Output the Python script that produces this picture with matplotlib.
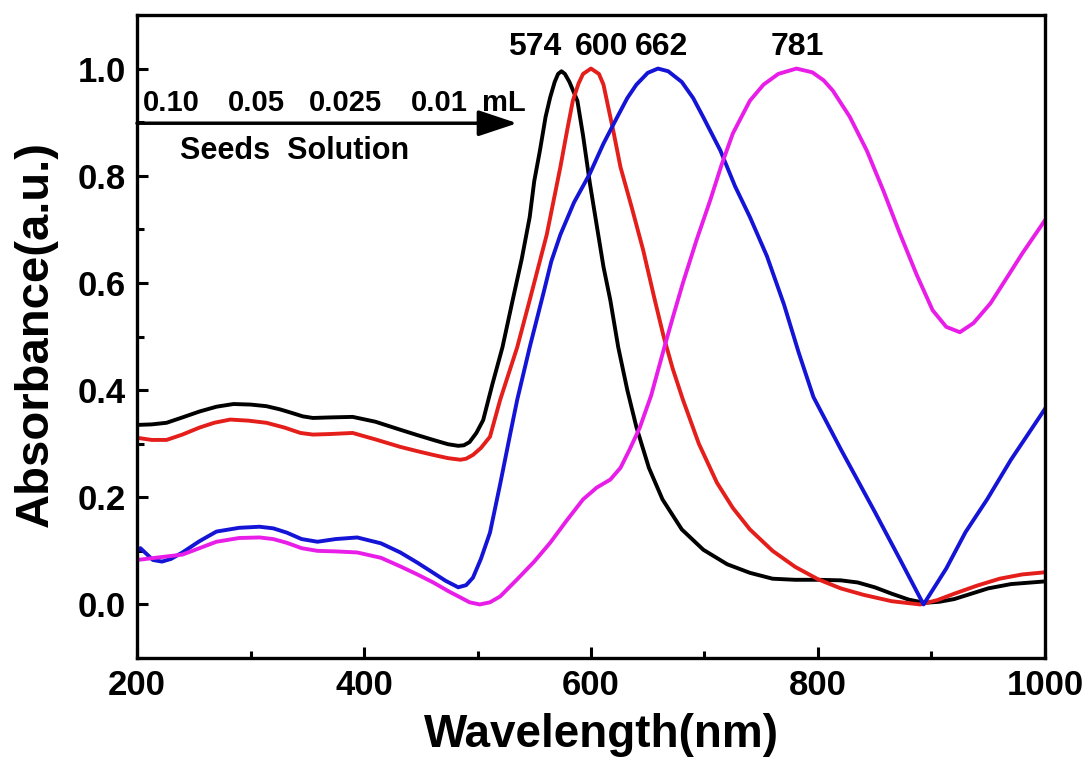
import matplotlib
matplotlib.use("Agg")
import matplotlib.pyplot as plt
from matplotlib.ticker import MultipleLocator

# values
black_x = [200, 213, 226, 240, 255, 270, 285, 300, 314, 326, 337, 346, 355, 370, 390, 410, 432, 447, 461, 474, 483,
           488, 493, 499, 505, 513, 522, 531, 539, 546, 550, 555, 560, 564, 568, 571, 574, 577, 581, 588, 593, 599,
           611, 617, 624, 632, 640, 651, 663, 680, 699, 720, 740, 760, 780, 800, 820, 835, 850, 865, 880, 894, 907,
           920, 935, 950, 970, 1000]
black_y = [0.335, 0.336, 0.339, 0.349, 0.360, 0.369, 0.374, 0.373, 0.370, 0.364, 0.357, 0.351, 0.348, 0.349, 0.350,
           0.341, 0.326, 0.316, 0.307, 0.299, 0.296, 0.297, 0.303, 0.320, 0.344, 0.41, 0.48, 0.568, 0.645, 0.723,
           0.79, 0.847, 0.91, 0.946, 0.975, 0.99, 0.995, 0.99, 0.975, 0.94, 0.875, 0.786, 0.63, 0.568, 0.48, 0.40,
           0.331, 0.255, 0.196, 0.14, 0.102, 0.075, 0.059, 0.048, 0.046, 0.046, 0.045, 0.041, 0.032, 0.02, 0.009,
           0.003, 0.005, 0.01, 0.02, 0.03, 0.038, 0.043]

red_x = [200, 213, 226, 240, 255, 268, 282, 298, 314, 330, 344, 355, 370, 390, 410, 432, 447, 461, 474, 485, 490,
         496, 503, 511, 520, 535, 546, 561, 573, 579, 584, 589, 593, 600, 607, 611, 614, 620, 626, 636, 646, 656,
         664, 672, 681, 695, 711, 725, 740, 760, 780, 800, 820, 840, 865, 890, 905, 920, 940, 960, 980, 1000]
red_y = [0.311, 0.307, 0.307, 0.317, 0.330, 0.339, 0.345, 0.343, 0.339, 0.330, 0.320, 0.317, 0.318, 0.320, 0.308,
         0.294, 0.286, 0.279, 0.273, 0.270, 0.272, 0.279, 0.292, 0.313, 0.382, 0.48, 0.568, 0.69, 0.816, 0.885,
         0.94, 0.972, 0.99, 1.0, 0.99, 0.97, 0.94, 0.88, 0.816, 0.74, 0.661, 0.57, 0.50, 0.44, 0.382, 0.30, 0.227,
         0.18, 0.14, 0.10, 0.07, 0.047, 0.03, 0.018, 0.006, 0.0, 0.008, 0.02, 0.035, 0.048, 0.056, 0.06]

blue_x = [200, 203, 208, 214, 222, 230, 240, 255, 270, 290, 308, 320, 332, 345, 359, 375, 394, 415, 432, 447, 461,
          472, 483, 490, 496, 503, 511, 520, 529, 535, 546, 552, 558, 565, 573, 585, 599, 611, 623, 632, 640, 650,
          659, 668, 680, 690, 699, 714, 727, 740, 755, 770, 783, 796, 820, 850, 872, 893, 913, 930, 949, 970, 1000]
blue_y = [0.099, 0.105, 0.095, 0.083, 0.080, 0.085, 0.097, 0.118, 0.136, 0.143, 0.145, 0.142, 0.134, 0.122, 0.117,
          0.122, 0.125, 0.114, 0.097, 0.078, 0.059, 0.044, 0.032, 0.036, 0.050, 0.085, 0.134, 0.225, 0.32, 0.382,
          0.48, 0.53, 0.58, 0.64, 0.69, 0.75, 0.804, 0.86, 0.909, 0.945, 0.97, 0.992, 1.0, 0.995, 0.975, 0.945,
          0.909, 0.847, 0.78, 0.723, 0.65, 0.56, 0.47, 0.387, 0.29, 0.173, 0.085, 0.0, 0.067, 0.135, 0.196, 0.27,
          0.365]

magenta_x = [200, 220, 240, 255, 270, 290, 308, 320, 332, 345, 359, 375, 394, 415, 432, 447, 461, 475, 485, 493, 502,
             511, 520, 535, 550, 564, 578, 593, 605, 617, 626, 634, 643, 653, 664, 672, 681, 693, 705, 715, 725, 740,
             752, 765, 781, 795, 805, 813, 828, 843, 858, 872, 887, 901, 913, 925, 937, 952, 965, 980, 1000]
magenta_y = [0.083, 0.088, 0.093, 0.105, 0.117, 0.124, 0.125, 0.122, 0.115, 0.105, 0.100, 0.099, 0.097, 0.087, 0.071,
             0.056, 0.041, 0.024, 0.013, 0.004, 0.0, 0.004, 0.015, 0.047, 0.08, 0.115, 0.155, 0.196, 0.218, 0.233,
             0.255, 0.289, 0.33, 0.39, 0.475, 0.535, 0.60, 0.68, 0.754, 0.82, 0.879, 0.94, 0.97, 0.99, 1.0, 0.993,
             0.978, 0.959, 0.91, 0.847, 0.77, 0.693, 0.615, 0.549, 0.518, 0.508, 0.525, 0.562, 0.605, 0.655, 0.717]

peak_labels = ["574", "600", "662", "781"]
peak_label_x = [550, 609, 662, 782]
seed_volumes = ["0.10", "0.05", "0.025", "0.01", "mL"]
seed_volume_x = [205, 280, 351, 441, 504]

plt.rcParams['font.family'] = ['Liberation Sans', 'DejaVu Sans']
plt.rcParams['font.weight'] = 'bold'

fig = plt.figure(figsize=(10.9, 7.64), dpi=100)
ax = fig.add_axes([0.1257, 0.1387, 0.833, 0.8417])

lw = 2.8
ax.plot(black_x, black_y, color='black', lw=lw, solid_joinstyle='round')
ax.plot(red_x, red_y, color='#e41e1a', lw=lw, solid_joinstyle='round')
ax.plot(blue_x, blue_y, color='#1414d6', lw=lw, solid_joinstyle='round')
ax.plot(magenta_x, magenta_y, color='#e81ee8', lw=lw, solid_joinstyle='round')

ax.set_xlim(200, 1000)
ax.set_ylim(-0.1, 1.1)
ax.xaxis.set_major_locator(MultipleLocator(200))
ax.xaxis.set_minor_locator(MultipleLocator(100))
ax.yaxis.set_minor_locator(MultipleLocator(0.1))
ax.set_yticks([0.0, 0.2, 0.4, 0.6, 0.8, 1.0])
ax.set_yticklabels(["0.0", "0.2", "0.4", "0.6", "0.8", "1.0"])

ax.tick_params(which='major', direction='in', length=8, width=2.2, labelsize=25, pad=8)
ax.tick_params(which='minor', direction='in', length=5, width=2.2)
for lab in ax.get_xticklabels() + ax.get_yticklabels():
    lab.set_fontweight('bold')
for sp in ax.spines.values():
    sp.set_linewidth(2.4)

ax.set_xlabel("Wavelength(nm)", fontsize=33, fontweight='bold')
ax.set_ylabel("Absorbance(a.u.)", fontsize=34, fontweight='bold')
ax.xaxis.set_label_coords(0.511, -0.085)
ax.yaxis.set_label_coords(-0.087, 0.504)

for lab, x in zip(peak_labels, peak_label_x):
    ax.text(x, 1.013, lab, fontsize=23, fontweight='bold', ha='center', va='bottom')

for lab, x in zip(seed_volumes, seed_volume_x):
    ax.text(x, 0.935, lab, fontsize=21, fontweight='bold', ha='left', va='center')
ax.text(238, 0.847, "Seeds  Solution", fontsize=22, fontweight='bold', ha='left', va='center')

ax.annotate("", xy=(535, 0.898), xytext=(200, 0.898),
            arrowprops=dict(arrowstyle='-|>,head_length=1.2,head_width=0.4', color='black', lw=2.5,
                            shrinkA=0, shrinkB=0, mutation_scale=20))

fig.savefig("out.png", dpi=100)
